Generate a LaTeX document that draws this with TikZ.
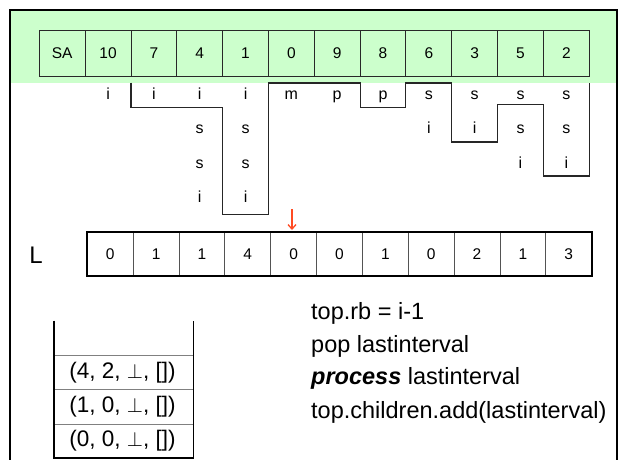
\documentclass[tikz,border=0pt]{standalone}
\usepackage{fontspec}
\setmainfont{Liberation Sans}
\usetikzlibrary{arrows.meta}
\definecolor{band}{RGB}{204,255,204}
\definecolor{cellline}{RGB}{40,40,40}
\definecolor{pointer}{RGB}{255,75,35}
\tikzset{
  sacell/.style={draw=cellline, line width=0.9pt, fill=band, minimum width=45.83pt,
    minimum height=45.3pt, inner sep=0pt, font=\fontsize{15.5}{16}\selectfont},
  lcell/.style={draw=cellline!80, line width=0.9pt, minimum width=45.85pt,
    minimum height=43.4pt, inner sep=0pt, font=\fontsize{15.5}{16}\selectfont},
  letter/.style={inner sep=0pt, anchor=base, font=\fontsize{16}{17}\selectfont},
  stackentry/.style={inner sep=0pt, font=\fontsize{22.5}{23}\selectfont},
  code/.style={anchor=west, inner sep=0pt, font=\fontsize{23.5}{24}\selectfont},
  lcpline/.style={draw=black!85, line width=1.1pt, line join=miter},
}
\begin{document}
\begin{tikzpicture}[x=1pt, y=-1pt]
\useasboundingbox (0,0) rectangle (622,459);
% green header band and outer frame
\fill[band] (9.5,9.5) rectangle (616.7,82.7);
\draw[line width=2pt] (9.5,470) -- (9.5,9.5) -- (616.7,9.5) -- (616.7,470);

% suffix array row
\foreach \v [count=\i from 0] in {SA,10,7,4,1,0,9,8,6,3,5,2} {
  \pgfmathsetmacro{\cx}{39.3+45.83*(\i+0.5)}
  \node[sacell] (sa\i) at (\cx,53.35) {\v};
}

% leading characters of each suffix, set on common baselines
\foreach \col/\letters in {1/{i},2/{i},3/{i,s,s,i},4/{i,s,s,i},5/{m},6/{p},7/{p},
    8/{s,i},9/{s,i},10/{s,s,i},11/{s,s,i}} {
  \foreach \ch [count=\r from 0] in \letters {
    \pgfmathsetmacro{\cx}{39.3+45.83*(\col+0.5)}
    \pgfmathsetmacro{\cy}{99.2+34.5*\r}
    \node[letter] (c\col-\r) at (\cx,\cy) {\ch};
  }
}

% common-prefix boundaries
\draw[lcpline] (130.96,82.7) -- (130.96,107.5) -- (222.6,107.5) -- (222.6,214.5)
  -- (268.45,214.5) -- (268.45,83) -- (360.1,83) -- (360.1,107.5) -- (405.9,107.5)
  -- (405.9,83) -- (451.8,83) -- (451.8,142) -- (497.6,142) -- (497.6,104.5)
  -- (543.4,104.5) -- (543.4,176) -- (589.3,176) -- (589.3,82.7);

% LCP array
\node[font=\fontsize{24}{25}\selectfont, inner sep=0pt] (llabel) at (36,255) {L};
\foreach \v [count=\i from 0] in {0,1,1,4,0,0,1,0,2,1,3} {
  \pgfmathsetmacro{\cx}{87.3+45.85*(\i+0.5)}
  \node[lcell] (l\i) at (\cx,254) {\v};
}
\draw[line width=1.8pt] (l0.north west) rectangle (l10.south east);

% current position marker
\coordinate (markstart) at (292,209);
\coordinate (markend) at (292,230);
\draw[pointer, line width=1.3pt, -{Straight Barb[length=4.5pt,width=8pt]}] (markstart) -- (markend);

% interval stack
\coordinate (stl) at (54,320.7);
\coordinate (str) at (193.3,320.7);
\draw[gray, line width=0.9pt] (54,355) -- (193.3,355) (54,389.3) -- (193.3,389.3)
  (54,424) -- (193.3,424);
\draw[line width=1.6pt] (stl) -- (54,457.7) -- (193.3,457.7) -- (str);
\node[stackentry] (s2) at (122.5,372.5) {(4, 2, $\perp$, [])};
\node[stackentry] (s1) at (122.5,407) {(1, 0, $\perp$, [])};
\node[stackentry] (s0) at (122.5,441) {(0, 0, $\perp$, [])};

% pseudo-code
\node[code] (t1) at (311,313) {top.rb = i-1};
\node[code] (t2) at (311,346) {pop lastinterval};
\node[code] (t3) at (311,378) {\textbf{\textit{process}} lastinterval};
\node[code] (t4) at (311,412) {top.children.add(lastinterval)};
\end{tikzpicture}
\end{document}
